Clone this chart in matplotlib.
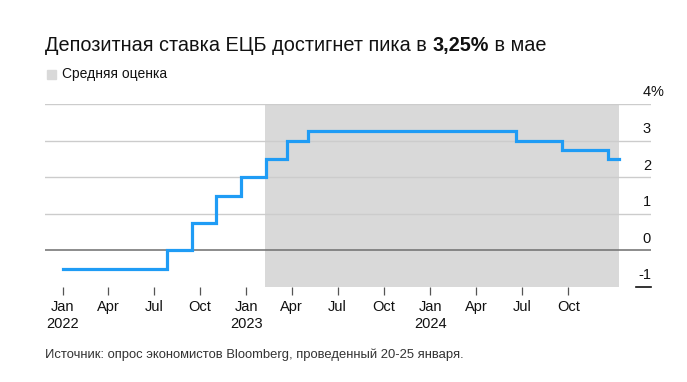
import datetime as dt
import matplotlib
matplotlib.use("Agg")
import matplotlib.pyplot as plt
from matplotlib.patches import Rectangle

plt.rcParams['font.family'] = ['Liberation Sans', 'DejaVu Sans']

# ставка депозитной линии ЕЦБ: даты изменений и уровни (%)
rate_dates = [dt.date(2022, 1, 1), dt.date(2022, 7, 27), dt.date(2022, 9, 14),
              dt.date(2022, 11, 2), dt.date(2022, 12, 21), dt.date(2023, 2, 8),
              dt.date(2023, 3, 22), dt.date(2023, 5, 4), dt.date(2024, 6, 19),
              dt.date(2024, 9, 18), dt.date(2024, 12, 18), dt.date(2025, 1, 10)]
rate_values = [-0.5, 0.0, 0.75, 1.5, 2.0, 2.5, 3.0, 3.25, 3.0, 2.75, 2.5, 2.5]

# период медианной оценки
forecast_start = dt.date(2023, 2, 7)
forecast_end = dt.date(2025, 1, 10)

x_ticks = [dt.date(y, m, 1) for y in (2022, 2023, 2024) for m in (1, 4, 7, 10)]
x_labels = ['Jan\n2022', 'Apr', 'Jul', 'Oct', 'Jan\n2023', 'Apr', 'Jul', 'Oct',
            'Jan\n2024', 'Apr', 'Jul', 'Oct']
y_ticks = [-1, 0, 1, 2, 3, 4]
y_labels = ['-1', '0', '1', '2', '3', '4']

title_plain = 'Депозитная ставка ЕЦБ достигнет пика в '
title_bold = '3,25%'
title_end = ' в мае'
legend_text = 'Средняя оценка'
source_text = 'Источник: опрос экономистов Bloomberg, проведенный 20-25 января.'

BLUE = '#1f9cf5'
SHADE = '#d9d9d9'
TXT = '#111111'

fig = plt.figure(figsize=(6.87, 3.82), dpi=100)
ax = fig.add_axes([0.0655, 0.2487, 0.882, 0.479])

ax.set_xlim(dt.date(2021, 11, 27), dt.date(2025, 3, 14))
ax.set_ylim(-1, 4)

ax.axvspan(forecast_start, forecast_end, color=SHADE, lw=0, zorder=0)

for y in y_ticks[2:]:
    ax.axhline(y, color='#cccccc', lw=1, zorder=1)
ax.axhline(0, color='#6e6e6e', lw=1.1, zorder=1)

ax.step(rate_dates, rate_values, where='post', color=BLUE, lw=2.3,
        solid_joinstyle='miter', zorder=3)

for s in ax.spines.values():
    s.set_visible(False)

ax.set_xticks(x_ticks)
ax.set_xticklabels(x_labels, fontsize=10.5, color=TXT, linespacing=1.3)
ax.tick_params(axis='x', length=5.5, width=0.9, color='#555555', pad=4)
ax.set_yticks([])

# подписи оси Y справа, над линиями сетки
ytr = ax.get_yaxis_transform()
for v, lab in zip(y_ticks, y_labels):
    ax.annotate(lab, (1.0, v), xycoords=ytr, xytext=(0, 8.3),
                textcoords='offset points', ha='right', va='center',
                fontsize=10.5, color=TXT)
    if v == 4:
        ax.annotate('%', (1.0, v), xycoords=ytr, xytext=(0, 8.3),
                    textcoords='offset points', ha='left', va='center',
                    fontsize=10.5, color=TXT)
ax.plot([0.975, 1.0], [-1, -1], transform=ytr, color=TXT, lw=1.2,
        clip_on=False)

# заголовок со вставкой жирного текста
fig.canvas.draw()
r = fig.canvas.get_renderer()
ty = 1 - 45.5 / 382
t1 = fig.text(45 / 687, ty, title_plain, fontsize=14.3, va='center', color=TXT)
bb = t1.get_window_extent(r)
t2 = fig.text(bb.x1 / 687, ty, title_bold, fontsize=14.3, va='center',
              fontweight='bold', color=TXT)
bb2 = t2.get_window_extent(r)
fig.text(bb2.x1 / 687, ty, title_end, fontsize=14.3, va='center', color=TXT)

fig.patches.append(Rectangle((47 / 687, 1 - 78.5 / 382), 9 / 687, 8 / 382,
                             transform=fig.transFigure, color=SHADE))
fig.text(62 / 687, 1 - 74 / 382, legend_text, fontsize=10, va='center',
         color=TXT)

fig.text(45 / 687, 1 - 355 / 382, source_text, fontsize=9.4, va='center',
         color='#333333')

fig.savefig('out.png', dpi=100)
